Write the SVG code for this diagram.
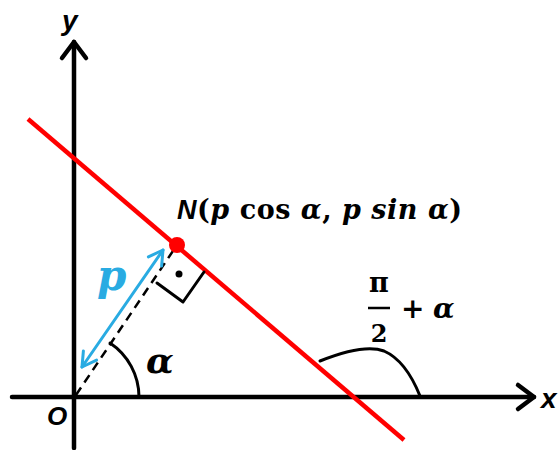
<svg xmlns="http://www.w3.org/2000/svg" width="560" height="450" viewBox="0 0 560 450">
<style>
.ax{stroke:#000;stroke-width:4.5;fill:none;stroke-linecap:round;stroke-linejoin:round}
.thin{stroke:#000;stroke-width:3;fill:none;stroke-linecap:round;stroke-linejoin:round}
.blue{stroke:#29abe2;stroke-width:3;fill:none;stroke-linecap:round;stroke-linejoin:round}
.lbl{font-family:"Liberation Sans",Arial,sans-serif;font-weight:bold;font-style:italic;fill:#000}
.math{font-family:"DejaVu Serif","Liberation Serif",serif;font-weight:bold;fill:#000}
</style>
<rect width="560" height="450" fill="#fff"/>
<g id="axes">
<line class="ax" x1="74" y1="448" x2="74" y2="42"/>
<path class="ax" d="M62,58 L74,42 L86,58"/>
<line class="ax" x1="12" y1="397" x2="534" y2="397"/>
<path class="ax" d="M518,385 L534,397 L518,409"/>
</g>
<g id="connectors">
<line x1="28" y1="119" x2="404" y2="440" stroke="#f00" stroke-width="4.5"/>
<line x1="76" y1="395" x2="177" y2="245" stroke="#000" stroke-width="2.5" stroke-dasharray="9,6"/>
<line class="blue" x1="82" y1="367" x2="163" y2="250"/>
<path class="blue" d="M161.6,266.1 L163,250 L148.4,256.9"/>
<path class="blue" d="M96.6,360.1 L82,367 L83.4,350.9"/>
<path class="thin" d="M157,283 L183,302 L204,272"/>
<path class="thin" d="M110,343 A65,65 0 0 1 139,397"/>
<path class="thin" d="M320,361 C345,351 368,345 384,351 C400,358 412,376 420,396"/>
</g>
<g id="N">
<circle cx="177" cy="245" r="8" fill="#f00"/>
<circle cx="179" cy="274" r="3.5" fill="#000"/>
<text x="177" y="219" font-size="27" textLength="285" lengthAdjust="spacing"><tspan class="lbl">N</tspan><tspan class="math">(<tspan font-style="italic">p</tspan> cos <tspan font-style="italic">α</tspan>, <tspan font-style="italic">p sin α</tspan>)</tspan></text>
</g>
<g id="labels">
<text class="lbl" x="62" y="30" font-size="28">y</text>
<text class="lbl" x="541" y="408" font-size="28">x</text>
<text class="lbl" x="47" y="425" font-size="26">O</text>
<text class="math" x="97" y="290" font-size="42" font-style="italic" style="fill:#29abe2">p</text>
<text class="math" x="146" y="373" font-size="36" font-style="italic">α</text>
<text class="math" x="379" y="292" font-size="27" text-anchor="middle">π</text>
<line x1="368" y1="308" x2="390" y2="308" stroke="#000" stroke-width="2.5"/>
<text class="math" x="379" y="342" font-size="24" text-anchor="middle">2</text>
<text class="math" x="401" y="318" font-size="28">+</text>
<text class="math" x="433" y="318" font-size="28" font-style="italic">α</text>
</g>
</svg>
